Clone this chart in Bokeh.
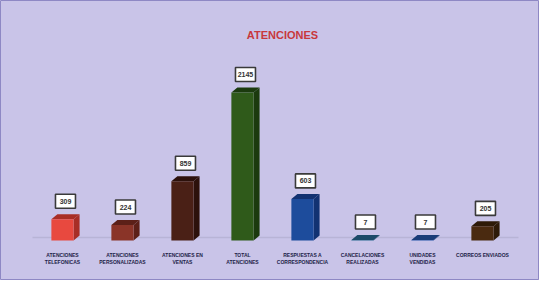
from bokeh.plotting import figure
from bokeh.models import Range1d, ColumnDataSource, Label
from bokeh.core.properties import value
from bokeh.embed import file_html
from bokeh.resources import INLINE

# data
line1 = ["ATENCIONES", "ATENCIONES", "ATENCIONES EN", "TOTAL", "RESPUESTAS A",
         "CANCELACIONES", "UNIDADES", "CORREOS ENVIADOS"]
line2 = ["TELEFONICAS", "PERSONALIZADAS", "VENTAS", "ATENCIONES", "CORRESPONDENCIA",
         "REALIZADAS", "VENDIDAS", ""]
values = [309, 224, 859, 2145, 603, 7, 7, 205]
front_colors = ["#e8493f", "#8a3428", "#4a2016", "#2f5a1a", "#1d4c9c", "#2a6a90", "#2756a8", "#4a2a10"]
side_colors = ["#a82e26", "#5c2018", "#2c110b", "#1b3a0e", "#123272", "#1c4a68", "#1a3c78", "#2e1a08"]

W, H = 539, 280
x0 = -0.033
x1 = x0 + W / 60.0
px_per_unit_y = 148 / 2145.0
y0 = -40 / px_per_unit_y
y1 = y0 + H / px_per_unit_y

p = figure(width=W, height=H, output_backend="svg", toolbar_location=None,
           x_range=Range1d(x0, x1), y_range=Range1d(y0, y1),
           min_border=0, background_fill_color="#c9c4e8", border_fill_color="#c9c4e8",
           outline_line_color="#8e88c4")
p.axis.visible = False
p.grid.visible = False

xs = list(range(1, len(values) + 1))
bw = 0.37
dx = 6 / 60.0
dy = 5 / px_per_unit_y

# floor line
p.line([0.5, 8.6], [dy * 0.6, dy * 0.6], line_color="#b8b4d6", line_width=1.5)

# side faces
side_xs = [[x + bw / 2, x + bw / 2 + dx, x + bw / 2 + dx, x + bw / 2] for x in xs]
side_ys = [[0, dy, v + dy, v] for v in values]
p.patches(side_xs, side_ys, fill_color=side_colors, line_color=None)
# top faces
top_xs = [[x - bw / 2, x + bw / 2, x + bw / 2 + dx, x - bw / 2 + dx] for x in xs]
top_ys = [[v, v, v + dy, v + dy] for v in values]
p.patches(top_xs, top_ys, fill_color=side_colors, line_color=None)
# front
box_y = [v + 18 / px_per_unit_y for v in values]
src = ColumnDataSource(dict(x=xs, top=values, color=front_colors, bx=[x + 0.05 for x in xs],
                            by=box_y, lab=[str(v) for v in values], l1=line1, l2=line2,
                            zero=[0] * len(values)))
p.vbar(x="x", top="top", bottom=0, width=bw, fill_color="color", line_color=None, source=src)

# value boxes
p.rect(x="bx", y="by", width=20, height=14, width_units="screen", height_units="screen",
       fill_color="white", line_color="#3a3a3a", line_width=1.6, source=src)
p.text(x="bx", y="by", text="lab", source=src, text_align="center", text_baseline="middle",
       text_font_size="7px", text_font_style="bold", text_font=value("Liberation Sans"),
       text_color="#333333")

p.text(x="x", y="zero", text="l1", source=src, y_offset=14, text_align="center",
       text_baseline="middle", text_font_size="5px", text_font_style="bold",
       text_font=value("Liberation Sans"), text_color="#1e1e48")
p.text(x="x", y="zero", text="l2", source=src, y_offset=21, text_align="center",
       text_baseline="middle", text_font_size="5px", text_font_style="bold",
       text_font=value("Liberation Sans"), text_color="#1e1e48")

title = Label(x=282, y=H - 34, x_units="screen", y_units="screen", text="ATENCIONES",
              text_align="center", text_baseline="middle", text_font_size="11px",
              text_font_style="bold", text_font="Liberation Sans",
              text_color="#c8383c")
p.add_layout(title)

open("out.html", "w").write(file_html(p, INLINE))
